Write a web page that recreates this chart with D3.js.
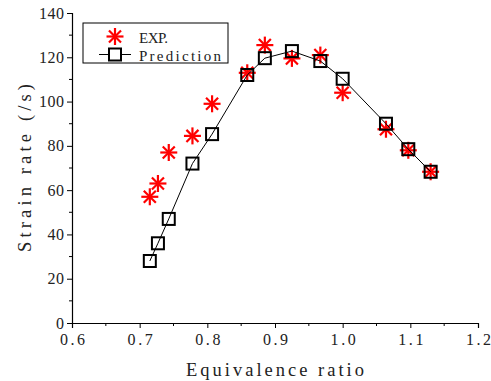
<!DOCTYPE html>
<html>
<head>
<meta charset="utf-8">
<script src="https://cdn.jsdelivr.net/npm/d3@7"></script>
<style>
  body { margin: 0; background: #fff; }
  text { font-family: "Liberation Serif", "DejaVu Serif", serif; fill: #222; }
</style>
</head>
<body>
<div id="chart"></div>
<script>
const phiExp = [0.715, 0.727, 0.743, 0.778, 0.807, 0.859, 0.885, 0.925, 0.967, 1.0, 1.064, 1.097, 1.13];
const strainExp = [57, 63, 77, 84.5, 99, 113, 125.5, 119.5, 121, 104, 87.5, 78, 68.3];
const phiPred = [0.715, 0.727, 0.743, 0.778, 0.807, 0.859, 0.885, 0.925, 0.967, 1.0, 1.064, 1.097, 1.13];
const strainPred = [28, 36, 47, 72, 85.3, 112, 119.6, 122.8, 118.3, 110.3, 90, 78.5, 68.3];
const xTicks = [0.6, 0.7, 0.8, 0.9, 1.0, 1.1, 1.2];
const yTicks = [0, 20, 40, 60, 80, 100, 120, 140];

const width = 491, height = 381;
const margin = { left: 72, right: 13, top: 13, bottom: 58 };
const charW = 8.7; // half-width glyph advance of the original font

const svg = d3.select('#chart').append('svg')
  .attr('width', width)
  .attr('height', height);

const x = d3.scaleLinear().domain([0.6, 1.2]).range([margin.left, width - margin.right]);
const y = d3.scaleLinear().domain([0, 140]).range([height - margin.bottom, margin.top]);

// axes
const xAxis = svg.append('g')
  .attr('transform', `translate(0,${y(0)})`)
  .call(d3.axisBottom(x).tickValues(xTicks).tickFormat(d3.format('.1f')).tickSize(5).tickPadding(6));
xAxis.append('g').selectAll('line')
  .data(d3.range(0.65, 1.2, 0.1))
  .enter().append('line')
  .attr('x1', d => x(d)).attr('x2', d => x(d))
  .attr('y1', 0).attr('y2', 3)
  .attr('stroke', '#000');

const yAxis = svg.append('g')
  .attr('transform', `translate(${x(0.6)},0)`)
  .call(d3.axisLeft(y).tickValues(yTicks).tickSize(5).tickPadding(3));
yAxis.append('g').selectAll('line')
  .data(d3.range(10, 140, 20))
  .enter().append('line')
  .attr('y1', d => y(d)).attr('y2', d => y(d))
  .attr('x1', 0).attr('x2', -3)
  .attr('stroke', '#000');

svg.selectAll('.domain').attr('stroke', '#000').attr('stroke-width', 1.2);
svg.selectAll('.tick line').attr('stroke', '#000');
svg.selectAll('.tick text')
  .style('font-size', '16px')
  .attr('fill', '#222')
  .attr('lengthAdjust', 'spacing')
  .attr('textLength', function () { return this.textContent.length * charW - 1; });

// axis titles
svg.append('text')
  .attr('x', (x(0.6) + x(1.2)) / 2)
  .attr('y', 375.5)
  .attr('text-anchor', 'middle')
  .style('font-size', '18.5px')
  .attr('lengthAdjust', 'spacing')
  .attr('textLength', 178)
  .text('Equivalence ratio');

svg.append('text')
  .attr('transform', `translate(31,${(y(0) + y(140)) / 2}) rotate(-90)`)
  .attr('text-anchor', 'middle')
  .style('font-size', '18.5px')
  .attr('lengthAdjust', 'spacing')
  .attr('textLength', 168)
  .text('Strain rate (/s)');

// asterisk marker
function star(g, cx, cy, r) {
  const d = r * Math.SQRT1_2;
  const s = g.append('g').attr('stroke', '#ff0000').attr('stroke-width', 2.2);
  s.append('line').attr('x1', cx - r).attr('x2', cx + r).attr('y1', cy).attr('y2', cy);
  s.append('line').attr('x1', cx).attr('x2', cx).attr('y1', cy - r).attr('y2', cy + r);
  s.append('line').attr('x1', cx - d).attr('x2', cx + d).attr('y1', cy - d).attr('y2', cy + d);
  s.append('line').attr('x1', cx - d).attr('x2', cx + d).attr('y1', cy + d).attr('y2', cy - d);
}

const expData = phiExp.map((p, i) => ({ x: p, y: strainExp[i] }));
const predData = phiPred.map((p, i) => ({ x: p, y: strainPred[i] }));

const expG = svg.append('g');
expData.forEach(d => star(expG, x(d.x), y(d.y), 8.5));

svg.append('path')
  .datum(predData)
  .attr('fill', 'none')
  .attr('stroke', '#000')
  .attr('stroke-width', 1)
  .attr('d', d3.line().x(d => x(d.x)).y(d => y(d.y)));

svg.append('g').selectAll('rect')
  .data(predData)
  .enter().append('rect')
  .attr('x', d => x(d.x) - 6)
  .attr('y', d => y(d.y) - 6)
  .attr('width', 12).attr('height', 12)
  .attr('fill', 'none')
  .attr('stroke', '#000')
  .attr('stroke-width', 2);

// legend
const lg = svg.append('g');
lg.append('rect')
  .attr('x', 83).attr('y', 23).attr('width', 145).attr('height', 40)
  .attr('fill', '#fff').attr('stroke', '#000').attr('stroke-width', 1);
star(lg, 115, 36.5, 8.5);
lg.append('text').attr('x', 139).attr('y', 43)
  .style('font-size', '15px')
  .attr('lengthAdjust', 'spacing').attr('textLength', 29)
  .text('EXP.');
lg.append('line').attr('x1', 99).attr('x2', 131).attr('y1', 54.5).attr('y2', 54.5)
  .attr('stroke', '#000').attr('stroke-width', 1);
lg.append('rect').attr('x', 109).attr('y', 48.5).attr('width', 12).attr('height', 12)
  .attr('fill', '#fff').attr('stroke', '#000').attr('stroke-width', 2);
lg.append('text').attr('x', 139).attr('y', 61)
  .style('font-size', '15px')
  .attr('lengthAdjust', 'spacing').attr('textLength', 82)
  .text('Prediction');
</script>
</body>
</html>
